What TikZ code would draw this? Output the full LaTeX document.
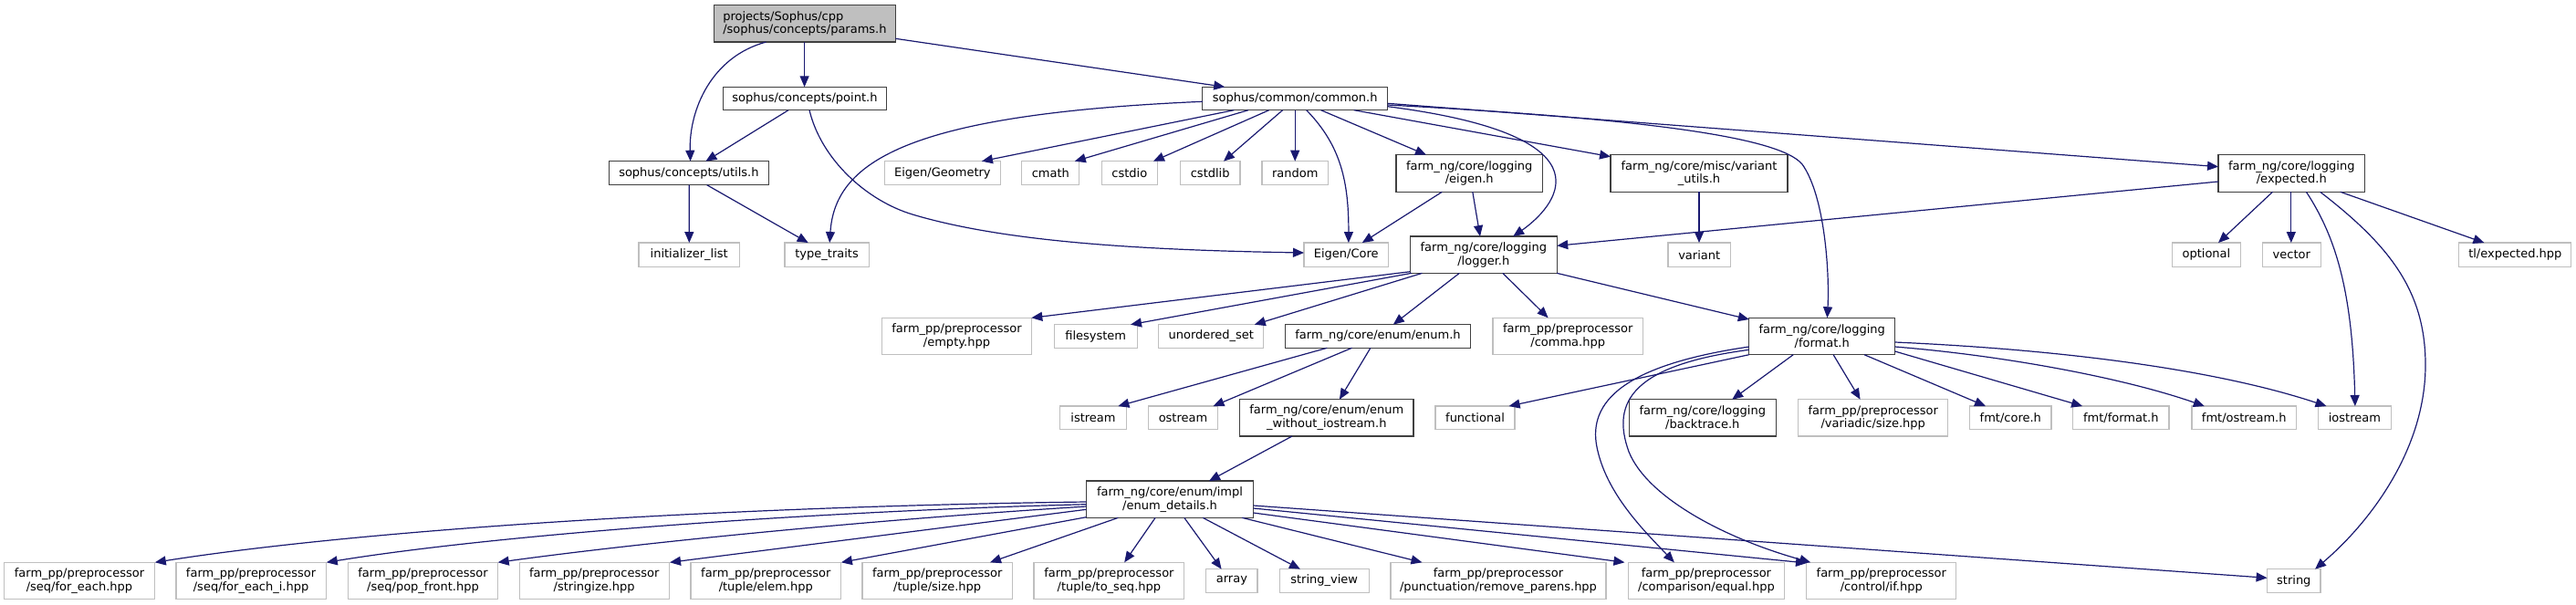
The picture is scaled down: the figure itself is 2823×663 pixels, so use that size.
\documentclass[tikz,border=0pt]{standalone}
\usepackage{fontspec}
\setmainfont{DejaVu Sans}
\usetikzlibrary{arrows.meta,calc}
\definecolor{edgec}{HTML}{191970}
\definecolor{dk}{HTML}{404040}
\definecolor{lt}{HTML}{BFBFBF}
\tikzset{
 nb/.style={rectangle, inner sep=0pt, align=center, font={\fontsize{13}{14.8}\selectfont}, line width=1.2pt, fill=white},
 dbox/.style={nb, draw=dk},
 lbox/.style={nb, draw=lt},
 rbox/.style={nb, draw=dk, fill=lt, align=left},
 edge/.style={draw=edgec, line width=1.2pt, -{Triangle[length=12pt,width=10pt]}},
}
\newcommand\ND[7]{\node[#1,minimum width=#5pt,minimum height=#6pt] (#2) at (#3,#4) {#7};}
\newcommand\E[6]{\draw[edge] ($(#1.center)+(#2,#3)$) -- ($(#4.center)+(#5,#6)$);}
\begin{document}
\begin{tikzpicture}[x=1pt,y=-1pt]
\path[use as bounding box, fill=white] (0,0) rectangle (2823,663);
% nodes
\ND{rbox}{params}{881.9}{25.9}{199}{40.3}{projects/Sophus/cpp\\/sophus/concepts/params.h}
\ND{dbox}{point}{881.9}{108}{179}{25.4}{sophus/concepts/point.h}
\ND{dbox}{utils}{754.9}{189.7}{175.6}{26}{sophus/concepts/utils.h}
\ND{lbox}{initlist}{755.2}{279.2}{110.5}{26.3}{initializer\_list}
\ND{lbox}{typetraits}{906.1}{279.2}{92.4}{26.3}{type\_traits}
\ND{lbox}{eigengeom}{1032.9}{189.7}{126.8}{26}{Eigen/Geometry}
\ND{lbox}{cmath}{1151.3}{189.7}{63}{26}{cmath}
\ND{lbox}{cstdio}{1237.8}{189.7}{61.2}{26}{cstdio}
\ND{lbox}{cstdlib}{1326.2}{189.7}{65.7}{26}{cstdlib}
\ND{lbox}{random}{1419.2}{189.7}{72.3}{26}{random}
\ND{dbox}{common}{1419.2}{108}{202.7}{25.4}{sophus/common/common.h}
\ND{lbox}{eigencore}{1475.2}{279.2}{92.4}{26.3}{Eigen/Core}
\ND{dbox}{eigenh}{1610.2}{190}{160.3}{40.6}{farm\_ng/core/logging\\/eigen.h}
\ND{dbox}{variantutils}{1862}{190}{193.9}{40.6}{farm\_ng/core/misc/variant\\\_utils.h}
\ND{dbox}{logger}{1625.8}{279.2}{160.8}{40.3}{farm\_ng/core/logging\\/logger.h}
\ND{lbox}{variant}{1862.2}{279.2}{68.4}{26.3}{variant}
\ND{dbox}{expected}{2511.3}{190}{160.5}{40.6}{farm\_ng/core/logging\\/expected.h}
\ND{lbox}{optional}{2417.9}{279.2}{75.2}{26.3}{optional}
\ND{lbox}{vector}{2511.3}{279.2}{63.7}{26.3}{vector}
\ND{lbox}{tlexpected}{2756.3}{279.2}{123.1}{26.3}{tl/expected.hpp}
\ND{lbox}{empty}{1048.5}{368.5}{164.4}{40.4}{farm\_pp/preprocessor\\/empty.hpp}
\ND{lbox}{filesystem}{1200.7}{368.5}{91}{25.6}{filesystem}
\ND{lbox}{unorderedset}{1327.3}{368.5}{115.1}{25.6}{unordered\_set}
\ND{dbox}{enumh}{1510}{368.5}{202.9}{25.6}{farm\_ng/core/enum/enum.h}
\ND{lbox}{comma}{1718.2}{368.5}{164.4}{40.4}{farm\_pp/preprocessor\\/comma.hpp}
\ND{dbox}{format}{1996.7}{368.5}{159.8}{40.4}{farm\_ng/core/logging\\/format.h}
\ND{lbox}{istream}{1198}{457.9}{72.9}{25.7}{istream}
\ND{lbox}{ostream}{1296.5}{457.9}{76.1}{25.7}{ostream}
\ND{dbox}{enumwo}{1453.8}{457.9}{190.5}{40.3}{farm\_ng/core/enum/enum\\\_without\_iostream.h}
\ND{lbox}{functional}{1616.5}{457.9}{87}{25.7}{functional}
\ND{dbox}{backtrace}{1865.8}{457.9}{160.8}{40.3}{farm\_ng/core/logging\\/backtrace.h}
\ND{lbox}{variadic}{2052.7}{457.9}{163.9}{40.3}{farm\_pp/preprocessor\\/variadic/size.hpp}
\ND{lbox}{fmtcore}{2203.3}{457.9}{89.4}{25.7}{fmt/core.h}
\ND{lbox}{fmtformat}{2324.3}{457.9}{105.5}{25.7}{fmt/format.h}
\ND{lbox}{fmtostream}{2459.2}{457.9}{114.3}{25.7}{fmt/ostream.h}
\ND{lbox}{iostream}{2580.4}{457.9}{80.2}{25.7}{iostream}
\ND{dbox}{enumdetails}{1282}{547.2}{183}{40.3}{farm\_ng/core/enum/impl\\/enum\_details.h}
\ND{lbox}{foreach}{87}{636.5}{164.9}{40.4}{farm\_pp/preprocessor\\/seq/for\_each.hpp}
\ND{lbox}{foreachi}{275.1}{636.5}{164.4}{40.4}{farm\_pp/preprocessor\\/seq/for\_each\_i.hpp}
\ND{lbox}{popfront}{463.5}{636.5}{164.4}{40.4}{farm\_pp/preprocessor\\/seq/pop\_front.hpp}
\ND{lbox}{stringize}{651.2}{636.5}{163.8}{40.4}{farm\_pp/preprocessor\\/stringize.hpp}
\ND{lbox}{elem}{839.3}{636.5}{164.5}{40.4}{farm\_pp/preprocessor\\/tuple/elem.hpp}
\ND{lbox}{tsize}{1027.2}{636.5}{164.4}{40.4}{farm\_pp/preprocessor\\/tuple/size.hpp}
\ND{lbox}{toseq}{1215.4}{636.5}{164.8}{40.4}{farm\_pp/preprocessor\\/tuple/to\_seq.hpp}
\ND{lbox}{array}{1349.9}{636.5}{56.2}{25.6}{array}
\ND{lbox}{stringview}{1451.2}{636.5}{97.8}{25.6}{string\_view}
\ND{lbox}{removeparens}{1642}{636.5}{236}{40.4}{farm\_pp/preprocessor\\/punctuation/remove\_parens.hpp}
\ND{lbox}{equal}{1869.9}{636.5}{170.8}{40.4}{farm\_pp/preprocessor\\/comparison/equal.hpp}
\ND{lbox}{ifhpp}{2061.8}{636.5}{164.1}{40.4}{farm\_pp/preprocessor\\/control/if.hpp}
\ND{lbox}{string}{2513.8}{636.5}{58.5}{25.6}{string}
% edges
\E{params}{-0.3}{20.15}{point}{-0.3}{-12.7}
\draw[edge] ($(params.center)+(-42.4,20.15)$) .. controls (780,62) and (755,120) .. ($(utils.center)+(1.7,-13)$);
\E{params}{99.5}{16.4}{common}{-77}{-12.7}
\E{point}{-17.9}{12.7}{utils}{18.5}{-13}
\draw[edge] ($(point.center)+(5.1,12.7)$) .. controls (900,175) and (950,220) .. (1000,235) .. controls (1100,265) and (1250,274) .. ($(eigencore.center)+(-46.2,-2.2)$);
\E{utils}{0.4}{13}{initlist}{0.1}{-13.15}
\E{utils}{19.8}{13}{typetraits}{-20.4}{-13.15}
\draw[edge] ($(common.center)+(-101.35,3.3)$) .. controls (1000,125) and (915,175) .. ($(typetraits.center)+(3.1,-13.15)$);
\E{common}{-67}{12.7}{eigengeom}{43}{-13}
\E{common}{-51.2}{12.7}{cmath}{26.5}{-13}
\E{common}{-28.5}{12.7}{cstdio}{26.1}{-13}
\E{common}{-13.6}{12.7}{cstdlib}{14.7}{-13}
\E{common}{0}{12.7}{random}{0}{-13}
\draw[edge] ($(common.center)+(12.5,12.7)$) .. controls (1470,160) and (1478,200) .. ($(eigencore.center)+(2.7,-13.15)$);
\E{common}{28.4}{12.7}{eigenh}{-47.2}{-20.3}
\E{common}{64.6}{12.7}{variantutils}{-96.95}{-18.3}
\draw[edge] ($(common.center)+(101.35,8.7)$) .. controls (1780,150) and (1700,230) .. ($(logger.center)+(32.4,-20.15)$);
\E{common}{101.35}{5.3}{expected}{-80.25}{-7.3}
\draw[edge] ($(common.center)+(101.35,7)$) .. controls (1800,130) and (1950,150) .. (1975,180) .. controls (2000,215) and (2005,300) .. ($(format.center)+(5.7,-20.2)$);
\E{eigenh}{-29.9}{20.3}{eigencore}{17.6}{-13.15}
\E{eigenh}{3.6}{20.3}{logger}{-3.8}{-20.15}
\E{variantutils}{0}{20.3}{variant}{-0.2}{-13.15}
\E{expected}{-80.25}{9}{logger}{80.4}{-9.9}
\E{expected}{-20.8}{20.3}{optional}{13.1}{-13.15}
\E{expected}{-0.5}{20.3}{vector}{-0.5}{-13.15}
\draw[edge] ($(expected.center)+(16.1,20.3)$) .. controls (2560,260) and (2578,320) .. ($(iostream.center)+(0.5,-12.85)$);
\draw[edge] ($(expected.center)+(31.3,20.3)$) .. controls (2620,270) and (2658,320) .. (2658,400) .. controls (2658,490) and (2600,570) .. ($(string.center)+(23.2,-12.8)$);
\E{expected}{53.4}{20.3}{tlexpected}{-33.9}{-13.15}
\E{logger}{-80.4}{18.5}{empty}{81.8}{-20.2}
\E{logger}{-79}{20.15}{filesystem}{38.3}{-12.8}
\E{logger}{-67.3}{20.15}{unorderedset}{47.5}{-12.8}
\E{logger}{-26.5}{20.15}{enumh}{16.8}{-12.8}
\E{logger}{21}{20.15}{comma}{-21.6}{-20.2}
\E{logger}{80.4}{20.15}{format}{-79.9}{-18.5}
\E{enumh}{-55.7}{12.8}{istream}{27.4}{-12.85}
\E{enumh}{-28.5}{12.8}{ostream}{33}{-12.85}
\E{enumh}{-8.1}{12.8}{enumwo}{14.1}{-20.15}
\E{enumwo}{-37.9}{20.15}{enumdetails}{43}{-20.15}
\E{format}{-79.9}{20.2}{functional}{37.1}{-12.85}
\draw[edge] ($(format.center)+(-79.9,11.5)$) .. controls (1780,400) and (1740,440) .. (1750,490) .. controls (1760,540) and (1800,580) .. ($(equal.center)+(-35.1,-20.2)$);
\draw[edge] ($(format.center)+(-79.9,14.8)$) .. controls (1790,400) and (1765,440) .. (1785,495) .. controls (1805,545) and (1890,590) .. ($(ifhpp.center)+(-77.6,-20.2)$);
\E{format}{-31.5}{20.2}{backtrace}{32.4}{-20.15}
\E{format}{12.4}{20.2}{variadic}{-14.1}{-20.15}
\E{format}{46.3}{20.2}{fmtcore}{-27.3}{-12.85}
\E{format}{79.9}{16.5}{fmtformat}{-42.2}{-12.85}
\draw[edge] ($(format.center)+(79.9,11.5)$) .. controls (2200,390) and (2330,415) .. ($(fmtostream.center)+(-43.4,-12.85)$);
\draw[edge] ($(format.center)+(79.9,6.5)$) .. controls (2300,385) and (2450,412) .. ($(iostream.center)+(-30.9,-12.85)$);
\draw[edge] ($(enumdetails.center)+(-91.5,2.8)$) .. controls (800,555) and (400,580) .. ($(foreach.center)+(82.8,-20.2)$);
\draw[edge] ($(enumdetails.center)+(-91.5,5.5)$) .. controls (900,560) and (550,585) .. ($(foreachi.center)+(82.7,-20.2)$);
\draw[edge] ($(enumdetails.center)+(-91.5,7.8)$) .. controls (950,570) and (700,595) .. ($(popfront.center)+(82.2,-20.2)$);
\E{enumdetails}{-91.5}{11.1}{stringize}{82.8}{-20.2}
\E{enumdetails}{-91.5}{19.5}{elem}{82.6}{-20.2}
\E{enumdetails}{-56.6}{20.15}{tsize}{57.8}{-20.2}
\E{enumdetails}{-15.9}{20.15}{toseq}{16.8}{-20.2}
\E{enumdetails}{15.8}{20.15}{array}{-11.3}{-12.8}
\E{enumdetails}{36.2}{20.15}{stringview}{-26.3}{-12.8}
\E{enumdetails}{79.2}{20.15}{removeparens}{-83.5}{-20.2}
\E{enumdetails}{91.5}{14.8}{equal}{-89.5}{-20.2}
\E{enumdetails}{91.5}{9.8}{ifhpp}{-81.8}{-19.5}
\E{enumdetails}{91.5}{6.8}{string}{-29.25}{-3.2}
\end{tikzpicture}
\end{document}
